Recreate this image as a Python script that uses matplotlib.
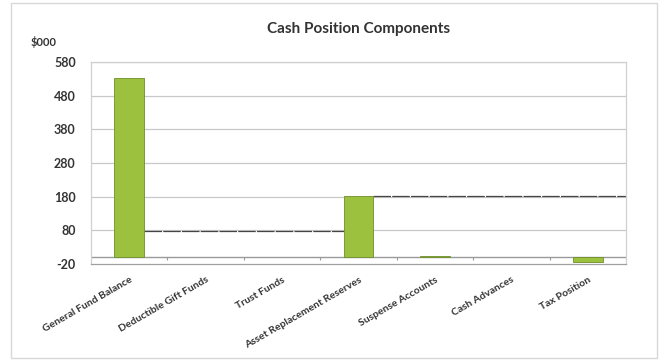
import matplotlib
matplotlib.use("Agg")
import matplotlib.pyplot as plt
import numpy as np
from matplotlib.patches import Rectangle

plt.rcParams['font.family'] = ['Lato', 'DejaVu Sans']

# Cash position components, $000
categories = ["General Fund Balance", "Deductible Gift Funds", "Trust Funds",
              "Asset Replacement Reserves", "Suspense Accounts", "Cash Advances",
              "Tax Position"]
values = [533, 0, 0, 182, 3, 0, -15]

# running reference levels drawn between the bars
ref_levels = [78, 182]
ref_spans = [(0, 3), (3, 7)]

y_ticks = [-20, 80, 180, 280, 380, 480, 580]

fig = plt.figure(figsize=(6.63, 3.62), dpi=100)
fig.patch.set_facecolor("white")
ax = fig.add_axes([0.1373, 0.2707, 0.807, 0.558])

x = np.arange(len(categories))
bar_w = 0.39

# gridlines
for t in y_ticks[1:]:
    ax.axhline(t, color="#c8c8c8", lw=0.9, zorder=0)

edge_w = [0.6 if v != 0 else 0 for v in values]
ax.bar(x, values, width=bar_w, color="#9cc13e", edgecolor="#6e8f2a",
       linewidth=edge_w, zorder=3)

# dark running lines
for lvl, (a, b) in zip(ref_levels, ref_spans):
    x0 = a + bar_w / 2
    x1 = b - bar_w / 2 if b < len(categories) else len(categories) - 0.5
    ax.hlines(lvl, x0, x1, color="#444444", lw=0.9, linestyle=(0, (14, 1)), zorder=2)

# category axis at zero with boundary ticks
ax.axhline(0, color="#9a9a9a", lw=1.0, zorder=2)
ax.vlines(np.arange(0.5, len(categories) - 0.5), -7, 0, color="#9a9a9a", lw=0.8, zorder=2)

ax.set_xlim(-0.5, len(categories) - 0.5)
ax.set_ylim(-20, 580)
ax.set_yticks(y_ticks)
ax.set_yticklabels([str(t) for t in y_ticks], fontsize=9, fontweight="bold", color="#333333")
ax.set_xticks(x)
ax.set_xticklabels(categories, rotation=30, ha="right", rotation_mode="anchor",
                   fontsize=7.5, fontweight="bold", color="#333333")
ax.tick_params(axis="both", length=0)
ax.tick_params(axis="y", pad=11)
ax.tick_params(axis="x", pad=8)

for s in ax.spines.values():
    s.set_color("#d0d0d0")
    s.set_linewidth(0.9)
ax.spines["bottom"].set_color("#a0a0a0")

ax.set_title("Cash Position Components", fontsize=11, fontweight="bold",
             color="#333333", pad=21)
fig.text(0.065, 0.884, "$000", fontsize=8, fontweight="bold", color="#333333",
         ha="center", va="center")

# chart area frame
fig.add_artist(Rectangle((0.016, 0.012), 0.975, 0.98, transform=fig.transFigure,
                         fill=False, edgecolor="#d8d8d8", lw=1.0))

fig.savefig("out.png", dpi=100, facecolor="white")
